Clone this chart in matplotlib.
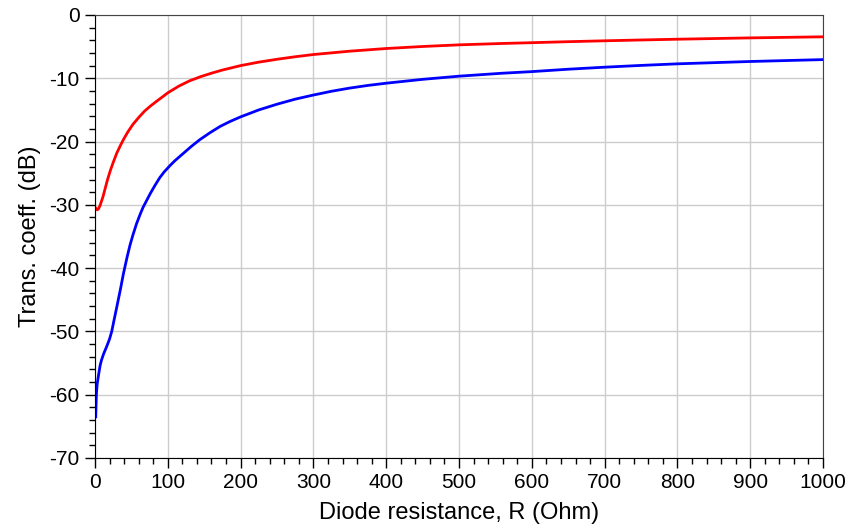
import matplotlib
matplotlib.use("Agg")
import matplotlib.pyplot as plt
from matplotlib.ticker import MultipleLocator

plt.rcParams['font.family'] = ['Liberation Sans', 'DejaVu Sans']
plt.rcParams['axes.unicode_minus'] = False

# diode resistance (Ohm) and transmission coefficient (dB)
r_red = [1, 3, 5, 7, 9, 11, 14, 17, 21, 25, 30, 35, 39, 45, 52, 60, 68, 76, 85, 92, 100,
         115, 130, 145, 160, 175, 200, 225, 250, 275, 300, 350, 400, 450, 500, 560, 600,
         650, 700, 750, 800, 900, 1000]
db_red = [-30.5, -30.8, -30.6, -30.1, -29.4, -28.7, -27.4, -26.1, -24.6, -23.3, -21.8,
          -20.6, -19.7, -18.5, -17.3, -16.2, -15.2, -14.4, -13.6, -13.0, -12.3,
          -11.25, -10.4, -9.75, -9.2, -8.7, -8.0, -7.45, -7.0, -6.6, -6.25, -5.72, -5.3,
          -4.98, -4.72, -4.5, -4.38, -4.22, -4.08, -3.95, -3.83, -3.62, -3.45]

r_blue = [1, 1.5, 2, 3, 5, 7, 9, 12, 16, 20, 23, 26, 30, 35, 39, 44, 48, 52, 57, 62, 66,
          71, 76, 82, 89, 95, 103, 110, 121, 132, 144, 158, 172, 186, 200, 225, 250, 275,
          300, 325, 350, 375, 400, 450, 500, 560, 600, 650, 700, 750, 800, 900, 1000]
db_blue = [-63.5, -61.5, -59.8, -58.3, -56.8, -55.4, -54.5, -53.5, -52.4, -51.2, -50.0,
           -48.3, -46.1, -43.3, -40.9, -38.3, -36.4, -34.8, -33.0, -31.5, -30.4, -29.3,
           -28.2, -27.0, -25.7, -24.8, -23.8, -23.0, -21.9, -20.8, -19.7, -18.6, -17.6,
           -16.8, -16.1, -15.0, -14.1, -13.3, -12.65, -12.05, -11.55, -11.13, -10.78,
           -10.17, -9.67, -9.2, -8.95, -8.57, -8.25, -7.97, -7.72, -7.35, -7.05]

fig = plt.figure(figsize=(8.52, 5.31), dpi=100)
ax = fig.add_axes([0.1115, 0.1375, 0.8545, 0.8343])

ax.plot(r_red, db_red, color='#ff0000', lw=2)
ax.plot(r_blue, db_blue, color='#0000ff', lw=2)

ax.set_xlim(0, 1000)
ax.set_ylim(-70, 0)
ax.xaxis.set_major_locator(MultipleLocator(100))
ax.xaxis.set_minor_locator(MultipleLocator(20))
ax.yaxis.set_major_locator(MultipleLocator(10))
ax.yaxis.set_minor_locator(MultipleLocator(2))

ax.grid(True, which='major', color='#cccccc', lw=1)
ax.tick_params(which='major', direction='out', length=7, width=1, labelsize=15, pad=4)
ax.tick_params(which='minor', direction='out', length=4.5, width=1)
for side in ('top', 'right'):
    ax.spines[side].set_color('#444444')
for side in ('left', 'bottom'):
    ax.spines[side].set_color('black')

ax.set_xlabel('Diode resistance, R (Ohm)', fontsize=17, labelpad=7)
ax.set_ylabel('Trans. coeff. (dB)', fontsize=17, labelpad=6)

fig.savefig('out.png', dpi=100)
